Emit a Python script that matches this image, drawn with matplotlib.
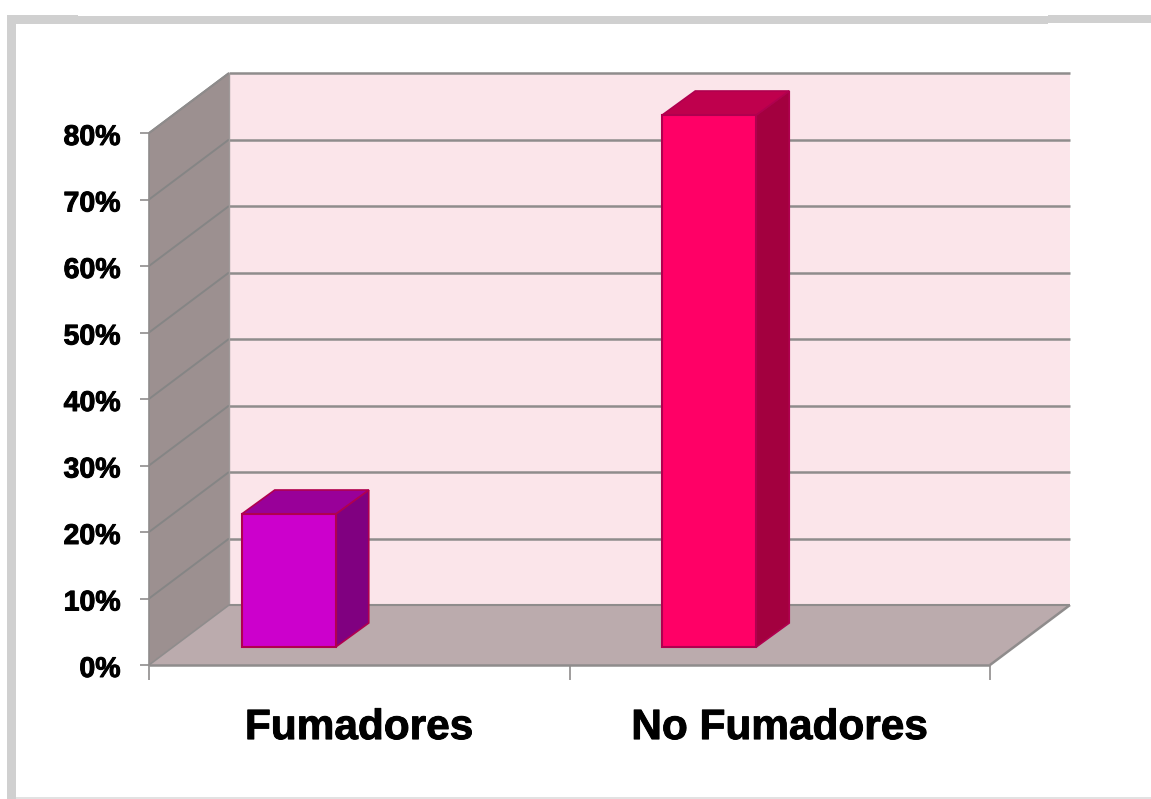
import matplotlib
matplotlib.use("Agg")
import matplotlib.pyplot as plt
import matplotlib.patheffects as pe
from matplotlib.patches import Polygon, Rectangle
from matplotlib.transforms import ScaledTranslation

W, H = 1151, 799

categories = ["Fumadores", "No Fumadores"]
values = [20, 80]
y_ticks = [0, 10, 20, 30, 40, 50, 60, 70, 80]

face_colors = ["#CC00CC", "#FF0066"]
top_colors = ["#990099", "#BF004D"]
side_colors = ["#800080", "#A3003F"]
edge_color = "#B0004F"
grid_color = "#8F8C8C"

plt.rcParams["font.family"] = ["Liberation Sans", "DejaVu Sans"]

fig = plt.figure(figsize=(W / 100, H / 100), dpi=100, facecolor="white")

# axes = front plane of the 3d box, pixel values
left, right, top, bottom = 149, 990, 133, 665
ax = fig.add_axes([left / W, 1 - bottom / H, (right - left) / W, (bottom - top) / H])
ax.set_xlim(0, 2)
ax.set_ylim(0, 80)
ax.patch.set_visible(False)
for s in ax.spines.values():
    s.set_visible(False)

# depth of the box in data units
dx = 80 / 420.5
dy = 60 / 6.65
# bar shape in data units
bar_w = 94 / 420.5
bar_shift = -70.5 / 420.5
bar_dx = 33 / 420.5
bar_dy = 24 / 6.65
bar_base = 18 / 6.65


def poly(pts, color, z, ec="none", lw=0):
    ax.add_patch(Polygon(pts, closed=True, facecolor=color, edgecolor=ec, linewidth=lw,
                         zorder=z, clip_on=False))


def line(xs, ys, z=2, lw=2, color=grid_color):
    ax.plot(xs, ys, color=color, lw=lw, zorder=z, clip_on=False, solid_capstyle="butt")


# walls
poly([(dx, dy), (2 + dx, dy), (2 + dx, 80 + dy), (dx, 80 + dy)], "#FBE5EA", 1)
poly([(0, 0), (dx, dy), (dx, 80 + dy), (0, 80)], "#9C9090", 1)
poly([(0, 0), (2, 0), (2 + dx, dy), (dx, dy)], "#BBABAD", 1)

for t in y_ticks[1:]:
    line([0, dx], [t, t + dy], lw=1.4, color="#858585")
    line([dx, 2 + dx], [t + dy, t + dy], lw=1.8)

# box outline
line([0, 0], [0, 80], lw=1.2)
line([0, dx], [80, 80 + dy], lw=1.2)
line([dx, dx], [dy, 80 + dy], lw=1, color="#A09A9A")
line([0, dx], [0, dy], lw=1.2)
line([dx, 2 + dx], [dy, dy], lw=1.5)
line([0, 2], [0, 0], lw=1.8)
line([2, 2 + dx], [0, dy], lw=1.8)

# bars
for i, v in enumerate(values):
    x0 = i + 0.5 + bar_shift - bar_w / 2
    x1 = x0 + bar_w
    y0 = bar_base
    y1 = y0 + v
    poly([(x1, y0), (x1 + bar_dx, y0 + bar_dy), (x1 + bar_dx, y1 + bar_dy), (x1, y1)],
         side_colors[i], 3, edge_color, 1.2)
    poly([(x0, y1), (x1, y1), (x1 + bar_dx, y1 + bar_dy), (x0 + bar_dx, y1 + bar_dy)],
         top_colors[i], 3, edge_color, 1.2)
    poly([(x0, y0), (x1, y0), (x1, y1), (x0, y1)], face_colors[i], 4, edge_color, 1.5)

# labels are heavier in the reference, a thin stroke gets close
heavy = [pe.withStroke(linewidth=0.7, foreground="black")]

# ticks
ax.set_yticks(y_ticks)
ax.set_yticklabels([str(t) + "%" for t in y_ticks], fontsize=20.5, fontweight="bold")
ax.tick_params(axis="y", length=6.5, width=1.2, color=grid_color, pad=14)
down = ScaledTranslation(0, -2 / 100, fig.dpi_scale_trans)
for lab in ax.get_yticklabels():
    lab.set_transform(lab.get_transform() + down)
    lab.set_path_effects(heavy)
ax.set_xticks([0, 1, 2])
ax.set_xticklabels([])
ax.tick_params(axis="x", which="major", length=11, width=1.2, color=grid_color)
ax.set_xticks([0.5, 1.5], minor=True)
ax.set_xticklabels(categories, minor=True, fontsize=30.5, fontweight="bold")
ax.tick_params(axis="x", which="minor", length=0, pad=31)
for lab in ax.get_xticklabels(minor=True):
    lab.set_path_effects(heavy)


# grey frame round the slide
def frame(x0, y0, x1, y1, color="#D0D0D0"):
    fig.add_artist(Rectangle((x0 / W, 1 - y1 / H), (x1 - x0) / W, (y1 - y0) / H,
                             transform=fig.transFigure, facecolor=color, edgecolor="none"))


frame(7, 15, 78, 24)
frame(78, 16, 1048, 24)
frame(1048, 15, W, 23)
frame(7, 15, 16, H)
frame(16, 797, W, 799, "#E2E2E2")

fig.savefig("out.png", dpi=100)
